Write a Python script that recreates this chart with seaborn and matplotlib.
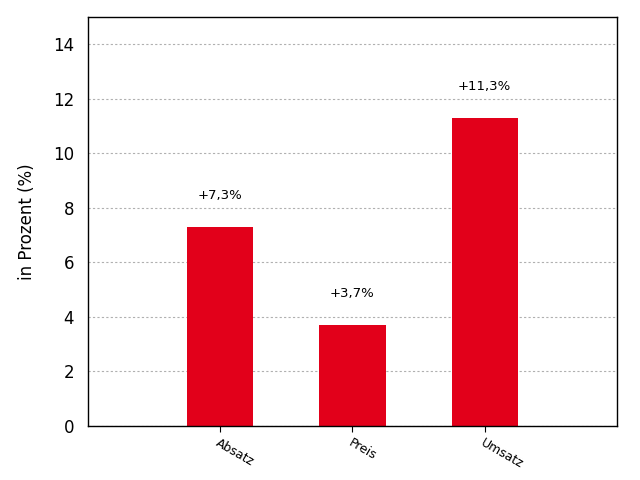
import matplotlib
matplotlib.use("Agg")
import matplotlib.pyplot as plt
import seaborn as sns
import pandas as pd

# data
categories = ["Absatz", "Preis", "Umsatz"]
values = [7.3, 3.7, 11.3]
labels = ["+7,3%", "+3,7%", "+11,3%"]

df = pd.DataFrame({"kategorie": categories, "wert": values})

sns.set_style("white", {"text.color": "black", "axes.labelcolor": "black",
                        "xtick.color": "black", "ytick.color": "black"})
plt.rcParams["font.family"] = ["DejaVu Sans"]

fig = plt.figure(figsize=(6.4, 4.8), dpi=100)
ax = fig.add_axes([0.1375, 0.1125, 0.8265, 0.852])

sns.barplot(data=df, x="kategorie", y="wert", color="#E2001A", saturation=1,
            width=0.5, linewidth=0, ax=ax)

ax.set_xlim(-1, 3)
ax.set_ylim(0, 15)
ax.set_yticks(range(0, 15, 2))
ax.yaxis.grid(True, linestyle=(0, (2, 2)), color="#b0b0b0", linewidth=0.8)
ax.set_axisbelow(True)

for i, (v, lab) in enumerate(zip(values, labels)):
    ax.text(i, v + 1.15, lab, ha="center", va="center", fontsize=9.5, color="black")

ax.set_xlabel("")
ax.set_ylabel("in Prozent (%)", fontsize=12, labelpad=12)
ax.tick_params(axis="y", labelsize=12, length=0, pad=10)
ax.tick_params(axis="x", labelsize=9, length=4, direction="out", bottom=True)
plt.setp(ax.get_xticklabels(), rotation=-30, ha="left", rotation_mode="anchor")

for s in ax.spines.values():
    s.set_color("black")
    s.set_linewidth(1.0)

fig.savefig("out.png", dpi=100)
